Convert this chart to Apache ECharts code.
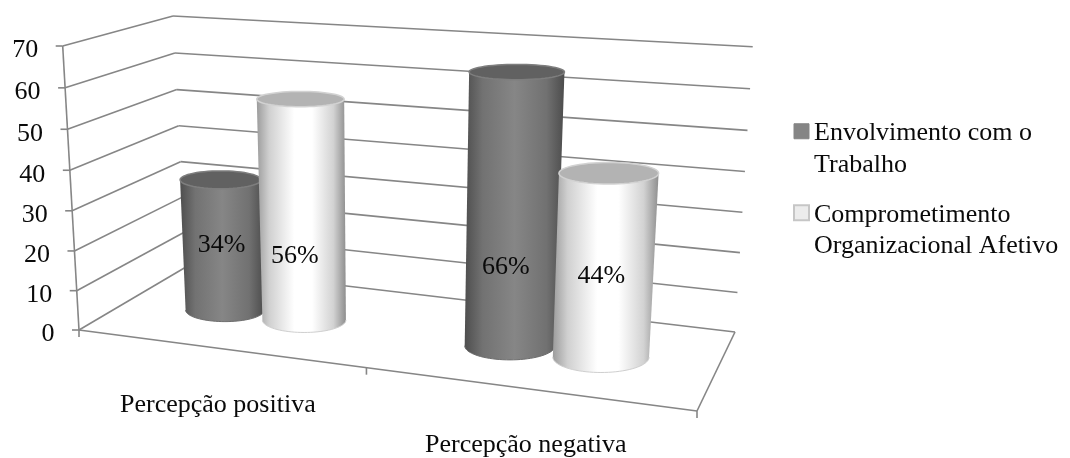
<!DOCTYPE html>
<html>
<head>
<meta charset="utf-8">
<style>html,body{margin:0;padding:0;background:#fff}#c{width:1070px;height:458px}</style>
<script src="https://cdn.jsdelivr.net/npm/echarts@6/dist/echarts.min.js"></script>
</head>
<body>
<div id="c"></div>
<script>
// Chart content
const categories = ['Percepção positiva', 'Percepção negativa'];
const seriesNames = ['Envolvimento com o\nTrabalho', 'Comprometimento\nOrganizacional Afetivo'];
const envolvimento = [34, 66];
const comprometimento = [56, 44];
const axisTicks = [0, 10, 20, 30, 40, 50, 60, 70];

// Box of the 3D scene: corners as [x, y] on screen, for floor and ceiling
const FLOOR = { fl: [79, 330], fr: [697, 411], bl: [186, 267], br: [735, 332] };
const CEIL = { fl: [62.7, 46], fr: [718, 89], bl: [173, 16], br: [752.7, 46.7] };
const PERSP_U = 0.15, PERSP_V = 0.037;
const BAR_DEPTH = 0.5, CAT_SHIFT = 0.003;
const BAR_SHAPE = [{ offset: -0.075, half: 0.074 }, { offset: 0.071, half: 0.0755 }];
const LABEL_VALUE = 19;              // height on the cylinders where percentages sit
const LABEL_NUDGE = [[[-1, 7], [-6, -2]], [[-8, 10], [-3, -3]]];
const GRID = { left: 0, top: 0, width: 1000, height: 400 };
const LINE = '#868686';
const FONT = '26px "Liberation Serif", "Times New Roman", serif';

const lerp = (a, b, t) => a + (b - a) * t;
const lerp2 = (a, b, t) => [lerp(a[0], b[0], t), lerp(a[1], b[1], t)];
function plane(q, u, d) {
  return lerp2(lerp2(q.fl, q.fr, u), lerp2(q.bl, q.br, u), d);
}
function project(u, d, v) {
  const uu = u / (1 + PERSP_U * (1 - u));
  const vv = v / (1 + PERSP_V * (1 - v));
  return lerp2(plane(FLOOR, uu, d), plane(CEIL, uu, d), vv);
}
// Normalised plot position of a (category, value) pair from the chart's own axes
function norm(api, cat, val) {
  const p = api.coord([cat, val]);
  return { u: (p[0] - GRID.left) / GRID.width, v: (GRID.top + GRID.height - p[1]) / GRID.height };
}
const seg = (a, b, w) => ({
  type: 'line', silent: true,
  shape: { x1: a[0], y1: a[1], x2: b[0], y2: b[1] },
  style: { stroke: LINE, lineWidth: w || 1.6 }
});
const txt = (text, x, y, align) => ({
  type: 'text', silent: true,
  style: { text, x, y, align: align || 'center', verticalAlign: 'middle', font: FONT, fill: '#0a0a0a' }
});

function renderFrame(params, api) {
  const val = api.value(1);
  const v = norm(api, 0, val).v;
  const front = project(0, 0, v), back = project(0, 1, v), right = project(1, 1, v);
  const kids = [seg(front, back), seg(back, right), seg([front[0] - 7, front[1]], front)];
  kids.push(txt(String(val), front[0] - 24.5, front[1] + 4.5, 'right'));
  return { type: 'group', children: kids };
}

function renderBase(params, api) {
  const a = project(0, 0, 0), b = project(1, 0, 0), c = project(1, 1, 0);
  const n = categories.length;
  const kids = [seg(a, project(0, 0, 1)), seg(a, b), seg(b, c)];
  for (let i = 0; i <= n; i++) {
    const p = project(i / n, 0, 0);
    kids.push(seg(p, [p[0], p[1] + 7]));
  }
  categories.forEach((name, i) => {
    const u = norm(api, i, 0).u;
    const p = project(u, 0, 0);
    kids.push(txt(name, p[0], p[1] + 57));
  });
  return { type: 'group', children: kids };
}

function ellipseArc(cx, cy, rx, ry, from, to, steps) {
  const pts = [];
  for (let i = 0; i <= steps; i++) {
    const t = from + (to - from) * i / steps;
    pts.push([cx + rx * Math.cos(t), cy + ry * Math.sin(t)]);
  }
  return pts;
}
function ringAt(u, v, half) {
  const c = project(u, BAR_DEPTH, v);
  const l = project(u - half, BAR_DEPTH, v), r = project(u + half, BAR_DEPTH, v);
  const rx = (r[0] - l[0]) / 2;
  return { cx: c[0], cy: c[1], rx, ry: rx * (0.12 + 0.00056 * c[1]) };
}

function cylinder(barIndex, look) {
  const shape = BAR_SHAPE[barIndex];
  return function (params, api) {
    const cat = api.value(0), val = api.value(1);
    const n = norm(api, cat, val);
    const u = n.u + CAT_SHIFT + shape.offset;
    const bot = ringAt(u, 0, shape.half), top = ringAt(u, n.v, shape.half);
    const body = [[top.cx - top.rx, top.cy], [top.cx + top.rx, top.cy]]
      .concat(ellipseArc(bot.cx, bot.cy, bot.rx, bot.ry, 0, Math.PI, 40));
    const grad = new echarts.graphic.LinearGradient(0, 0, 1, 0, look.stops);
    const lv = norm(api, cat, LABEL_VALUE).v;
    const lp = project(u, BAR_DEPTH, lv);
    const nudge = LABEL_NUDGE[barIndex][cat];
    return {
      type: 'group',
      children: [
        { type: 'polygon', silent: true, shape: { points: body }, style: { fill: grad } },
        { type: 'polyline', silent: true,
          shape: { points: ellipseArc(bot.cx, bot.cy, bot.rx, bot.ry, 0, Math.PI, 40) },
          style: { fill: null, stroke: look.edge, lineWidth: 1 } },
        { type: 'polygon', silent: true,
          shape: { points: ellipseArc(top.cx, top.cy, top.rx, top.ry, 0, Math.PI * 2, 60) },
          style: { fill: look.cap, stroke: look.rim, lineWidth: 1.5 } },
        txt(val + '%', lp[0] + nudge[0], lp[1] + nudge[1])
      ]
    };
  };
}

const DARK = {
  stops: [
    { offset: 0, color: '#4e4e4e' }, { offset: 0.18, color: '#727272' },
    { offset: 0.5, color: '#868686' }, { offset: 0.82, color: '#717171' },
    { offset: 1, color: '#4c4c4c' }
  ],
  cap: '#616161', rim: '#7e7e7e', edge: '#6e6e6e', legend: '#858585', legendEdge: '#858585'
};
const LIGHT = {
  stops: [
    { offset: 0, color: '#9c9c9c' }, { offset: 0.14, color: '#d0d0d0' },
    { offset: 0.42, color: '#ffffff' }, { offset: 0.62, color: '#ffffff' },
    { offset: 0.86, color: '#d2d2d2' }, { offset: 1, color: '#8e8e8e' }
  ],
  cap: '#b3b3b3', rim: '#d2d2d2', edge: '#cfcfcf', legend: '#ececec', legendEdge: '#c6c6c6'
};

const pairs = arr => arr.map((v, i) => [i, v]);
const LEGEND_LINE = { fontFamily: '"Liberation Serif"', fontSize: 26, lineHeight: 31.5, color: '#0a0a0a' };

const option = {
  animation: false,
  backgroundColor: '#fff',
  tooltip: { show: false },
  grid: GRID,
  xAxis: { type: 'category', data: categories, show: false },
  yAxis: { type: 'value', min: 0, max: 70, interval: 10, show: false },
  legend: {
    left: 793, top: 82, padding: 0, orient: 'vertical', itemWidth: 15, itemHeight: 15, itemGap: -17,
    icon: 'rect', selectedMode: false,
    // a blank first row keeps each swatch level with the first line of its text
    formatter: name => '{gap| }\n' + name.split('\n').map(l => '{line|' + l + '}').join('\n'),
    textStyle: {
      ...LEGEND_LINE,
      rich: { gap: { fontSize: 10, lineHeight: 35.5 }, line: LEGEND_LINE }
    },
    data: [
      { name: seriesNames[0], itemStyle: { color: DARK.legend, borderColor: DARK.legendEdge, borderWidth: 1 } },
      { name: seriesNames[1], itemStyle: { color: LIGHT.legend, borderColor: LIGHT.legendEdge, borderWidth: 2 } }
    ]
  },
  series: [
    { type: 'custom', name: 'frame', silent: true, z: 1, renderItem: renderFrame,
      data: axisTicks.map(t => [0, t]), encode: { x: 0, y: 1 } },
    { type: 'custom', name: 'base', silent: true, z: 1, renderItem: renderBase,
      data: [[0, 0]], encode: { x: 0, y: 1 } },
    { type: 'custom', name: seriesNames[0], silent: true, z: 2, renderItem: cylinder(0, DARK),
      data: pairs(envolvimento), encode: { x: 0, y: 1 }, itemStyle: { color: DARK.legend } },
    { type: 'custom', name: seriesNames[1], silent: true, z: 3, renderItem: cylinder(1, LIGHT),
      data: pairs(comprometimento), encode: { x: 0, y: 1 }, itemStyle: { color: LIGHT.legend } }
  ]
};

echarts.init(document.getElementById('c'), null, { renderer: 'canvas' }).setOption(option);
</script>
</body>
</html>
